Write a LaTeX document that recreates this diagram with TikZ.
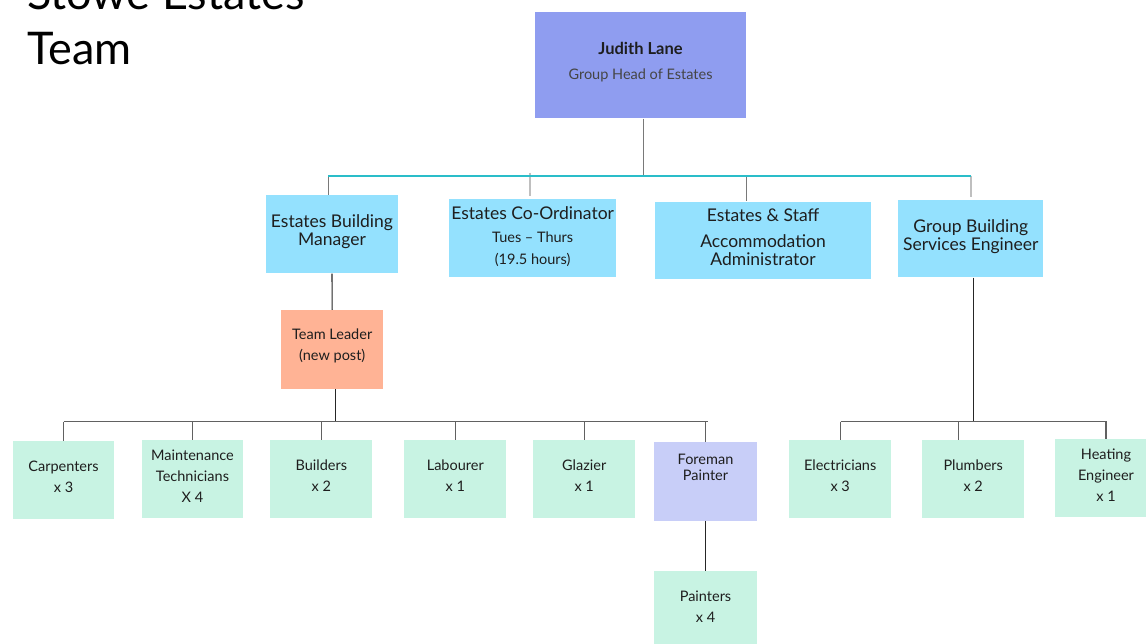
\documentclass[tikz,border=0pt]{standalone}
\usepackage{fontspec}
\setmainfont{Lato}
\definecolor{cHead}{HTML}{8F9DF0}
\definecolor{cBlue}{HTML}{94E1FE}
\definecolor{cSalmon}{HTML}{FFB395}
\definecolor{cMint}{HTML}{C8F3E3}
\definecolor{cLav}{HTML}{C8CEF8}
\definecolor{cTeal}{HTML}{2ABDC9}
\definecolor{cText}{HTML}{1E1E1E}
\definecolor{cSub}{HTML}{454545}
\begin{document}
\begin{tikzpicture}[x=1pt,y=-1pt,
  box/.style={draw=none, inner sep=0pt},
  headbox/.style={box, fill=cHead, minimum width=211, minimum height=106.5},
  mgrbox/.style={box, fill=cBlue, minimum height=77.7},
  leadbox/.style={box, fill=cSalmon, minimum width=102.3, minimum height=78.7},
  staffbox/.style={box, fill=cMint, minimum width=101.8, minimum height=77.7},
  forebox/.style={box, fill=cLav, minimum width=102.4, minimum height=79},
  txt/.style={inner sep=0pt, align=center, text=cText},
  bigtxt/.style={txt, font=\fontsize{17.5}{18}\selectfont},
  smalltxt/.style={txt, font=\fontsize{14.5}{21}\selectfont},
  upline/.style={draw=gray!95!black, line width=1pt},
  paleline/.style={draw=black!25, line width=1.6pt},
  lowline/.style={draw=black!62, line width=1.4pt},
  darkline/.style={draw=black!85, line width=1.1pt},
  busline/.style={draw=cTeal, line width=1.3pt}
]
\useasboundingbox (0,0) rectangle (1146,644);
\clip (0,0) rectangle (1146,644);
\fill[white] (0,0) rectangle (1146,644);

% title
\node[inner sep=0pt, anchor=base west, font=\fontsize{45}{55}\selectfont] (title1) at (27,10) {Stowe Estates};
\node[inner sep=0pt, anchor=base west, font=\fontsize{45}{55}\selectfont] (title2) at (27,65) {Team};

% head
\node[headbox] (judith) at (640.5,65.25) {};
\node[txt, font=\fontsize{14.5}{25}\selectfont] (judith-t) at (640.5,62.5) {{\fontsize{16.5}{25}\selectfont\bfseries Judith Lane}\\{\color{cSub}Group Head of Estates}};

% managers
\node[mgrbox, minimum width=132.6, minimum height=78.3] (ebm) at (332,234.2) {};
\node[bigtxt] (ebm-t) at (332,231.2) {Estates Building\\Manager};

\node[mgrbox, minimum width=166.7] (coord) at (532.7,237.8) {};
\node[bigtxt] (coord-t) at (532.7,236.6) {Estates Co-Ordinator\\[5pt]{\fontsize{14.5}{18}\selectfont Tues -- Thurs}\\[3.5pt]{\fontsize{14.5}{18}\selectfont (19.5 hours)}};

\node[mgrbox, minimum width=216] (ess) at (763,240.5) {};
\node[bigtxt] (ess-t) at (763,237.5) {Estates \& Staff\\[8pt]Accommodation\\Administrator};

\node[mgrbox, minimum width=145, minimum height=77.3] (gbse) at (970.8,238.7) {};
\node[bigtxt] (gbse-t) at (970.8,236.4) {Group Building\\Services Engineer};

% team leader
\node[leadbox] (tl) at (332.2,349.3) {};
\node[smalltxt] (tl-t) at (332.2,345.8) {Team Leader\\(new post)};

% staff row
\node[staffbox] (carp) at (63.5,479.7) {};
\node[smalltxt] (carp-t) at (63.5,476.7) {Carpenters\\x 3};
\node[staffbox] (maint) at (192.5,479) {};
\node[smalltxt] (maint-t) at (192.5,475.8) {Maintenance\\Technicians\\X 4};
\node[staffbox] (build) at (321.3,479) {};
\node[smalltxt] (build-t) at (321.3,475.8) {Builders\\x 2};
\node[staffbox] (lab) at (455.3,479) {};
\node[smalltxt] (lab-t) at (455.3,475.8) {Labourer\\x 1};
\node[staffbox] (glaz) at (584.2,479) {};
\node[smalltxt] (glaz-t) at (584.2,475.8) {Glazier\\x 1};
\node[forebox] (fore) at (705.5,481.2) {};
\node[txt, font=\fontsize{14.5}{15.7}\selectfont] (fore-t) at (705.5,467.2) {Foreman\\Painter};
\node[staffbox, minimum width=102.4, minimum height=78] (paint) at (705.5,610) {};
\node[smalltxt] (paint-t) at (705.5,606.5) {Painters\\x 4};

\node[staffbox] (elec) at (840.2,479.2) {};
\node[smalltxt] (elec-t) at (840.2,475.8) {Electricians\\x 3};
\node[staffbox] (plum) at (973.2,479.2) {};
\node[smalltxt] (plum-t) at (973.2,475.8) {Plumbers\\x 2};
\node[staffbox, minimum width=102] (heat) at (1106,478) {};
\node[smalltxt] (heat-t) at (1106,474.7) {Heating\\Engineer\\x 1};

% top connectors
\coordinate (busJ) at (643.7,176);
\coordinate (busL) at (328.3,176);
\coordinate (busR) at (971,176);
\coordinate (busC) at (530,173);
\coordinate (busE) at (746.7,176);
\draw[upline] (judith.south -| busJ) -- (busJ);
\draw[upline] (busL) -- (ebm.north -| busL);
\draw[paleline, shorten >=3pt] (busC) -- (coord.north -| busC);
\draw[upline] (busE) -- (ess.north -| busE);
\draw[paleline, shorten >=3pt] (busR) -- (gbse.north -| busR);
\draw[busline] (busL) -- (busR);

% manager to team leader
\draw[darkline] (ebm.south) -- (tl.north);

% team leader bus
\coordinate (b2) at (335.5,421.7);
\coordinate (b2L) at (64,421.7);
\coordinate (b2R) at (707.5,421.7);
\draw[darkline] (tl.south -| b2) -- (b2);
\draw[lowline] (b2L) -- (b2R);
\foreach \n in {carp,maint,build,lab,glaz,fore}
  \draw[lowline] (\n.north |- b2L) -- (\n.north);
\draw[darkline] (fore.south) -- (paint.north);

% engineer bus
\coordinate (b3) at (973.3,421.7);
\coordinate (b3L) at (840.7,421.7);
\coordinate (b3R) at (1106.5,421.7);
\coordinate (b3M) at (958.3,421.7);
\draw[darkline] (gbse.south -| b3) -- (b3);
\draw[lowline] (b3L) -- (b3R);
\draw[lowline] (elec.north |- b3L) -- (elec.north);
\draw[lowline] (b3M) -- (plum.north -| b3M);
\draw[lowline] (heat.north |- b3L) -- (heat.north);
\end{tikzpicture}
\end{document}
